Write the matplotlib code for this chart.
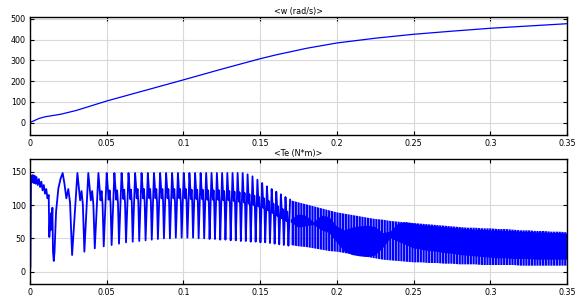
import matplotlib.pyplot as plt
import numpy as np

# rotor speed <w (rad/s)>
w_t = [0, 0.003, 0.006, 0.01, 0.015, 0.02, 0.03, 0.05, 0.075, 0.1, 0.125, 0.15,
       0.16, 0.17, 0.18, 0.2, 0.225, 0.25, 0.275, 0.3, 0.325, 0.35]
w_v = [0, 10, 20, 28, 34, 40, 58, 104, 155, 206, 258, 308,
       326, 342, 358, 384, 407, 426, 441, 455, 466, 477]

# torque <Te (N*m)> : start-up transient
te0_t = [0, 0.0003, 0.0007, 0.0012, 0.0018, 0.0024, 0.0030, 0.0036, 0.0042, 0.0050,
         0.0058, 0.0066, 0.0074, 0.0082, 0.0090, 0.0098, 0.0106, 0.0114, 0.0122, 0.0126,
         0.0130, 0.0134, 0.0138, 0.0142, 0.0146, 0.0150, 0.0155, 0.0160, 0.0170, 0.0185, 0.0200]
te0_v = [0, 8, 144, 134, 145, 133, 144, 132, 142, 130,
         139, 127, 135, 122, 130, 117, 124, 110, 115, 52,
         78, 62, 88, 70, 96, 30, 16, 30, 90, 125, 140]

# torque: one entry per oscillation cycle (peak time, peak, shoulder level, trough)
cyc_t = [0.0213, 0.0309, 0.0380, 0.0446, 0.0500, 0.0550, 0.0597, 0.0642, 0.0685, 0.0727,
         0.0768, 0.0808, 0.0848, 0.0887, 0.0926, 0.0964, 0.1002, 0.1039, 0.1076, 0.1112,
         0.1148, 0.1183, 0.1218, 0.1252, 0.1286, 0.1320, 0.1353, 0.1386, 0.1418, 0.1450,
         0.1482, 0.1513, 0.1544, 0.1575, 0.1605, 0.1635, 0.1665, 0.1695]
cyc_peak = [148, 148, 148, 148, 148, 148, 148, 148, 148, 148,
            148, 148, 148, 148, 148, 148, 148, 148, 148, 148,
            148, 148, 148, 148, 148, 148, 148, 148, 146, 143,
            138, 133, 128, 124, 120, 116, 112, 108]
cyc_mid = [118, 115, 115, 115, 116, 116, 117, 117, 118, 118,
           118, 118, 118, 118, 118, 118, 118, 117, 117, 117,
           116, 116, 116, 115, 115, 114, 113, 112, 110, 108,
           106, 104, 100, 96, 92, 88, 84, 80]
cyc_low = [25, 30, 35, 38, 40, 42, 44, 45, 46, 47,
           48, 49, 50, 50, 51, 51, 51, 51, 50, 50,
           49, 49, 48, 48, 47, 47, 46, 46, 45, 45,
           44, 44, 43, 42, 41, 40, 39, 38]

# torque: dense ripple band after 0.17 s (outer envelope and solid core)
band_t = [0.170, 0.175, 0.180, 0.185, 0.190, 0.195, 0.200, 0.205, 0.210, 0.215,
          0.220, 0.225, 0.230, 0.235, 0.240, 0.245, 0.250, 0.255, 0.260, 0.265,
          0.270, 0.275, 0.280, 0.285, 0.290, 0.295, 0.300, 0.305, 0.310, 0.315,
          0.320, 0.325, 0.330, 0.335, 0.340, 0.345, 0.350]
band_hi = [107, 104, 101, 98, 95, 92, 89, 87, 85, 83,
           81, 79, 78, 76, 75, 74, 73, 72, 71, 70,
           69, 68, 67, 66, 66, 65, 65, 64, 64, 63,
           62, 62, 61, 61, 60, 60, 59]
band_lo = [40, 38, 37, 35, 33, 31, 30, 28, 26, 24,
           22, 20, 18, 17, 16, 15, 14, 14, 13, 13,
           12, 12, 11, 11, 11, 10, 10, 10, 10, 10,
           9, 9, 9, 9, 9, 9, 9]
core_hi = [78, 86, 84, 74, 84, 82, 68, 62, 66, 68,
           69, 67, 58, 60, 72, 74, 72, 70, 69, 68,
           67, 66, 65, 64, 63, 63, 62, 62, 61, 61,
           60, 60, 59, 59, 58, 58, 57]
core_lo = [74, 66, 68, 70, 62, 58, 44, 30, 25, 23,
           22, 24, 35, 50, 45, 40, 35, 33, 31, 30,
           28, 27, 25, 24, 23, 22, 21, 20, 20, 19,
           19, 19, 18, 18, 18, 18, 18]

# build torque trace from the cycle table
te_t = list(te0_t)
te_v = list(te0_v)
for i in range(len(cyc_t) - 1):
    t0 = cyc_t[i]
    g = cyc_t[i + 1] - cyc_t[i]
    te_t += [t0, t0 + 0.12 * g, t0 + 0.25 * g, t0 + 0.38 * g, t0 + 0.5 * g, t0 + 0.64 * g]
    te_v += [cyc_peak[i], cyc_mid[i] + 14, cyc_mid[i] - 8, cyc_mid[i] + 6,
             cyc_mid[i] - 14, cyc_low[i]]
te_t.append(cyc_t[-1])
te_v.append(cyc_peak[-1])

plt.rcParams['hatch.color'] = 'blue'
plt.rcParams['hatch.linewidth'] = 1.6

fig = plt.figure(figsize=(5.8, 2.96), dpi=100)
ax1 = fig.add_axes([0.0517, 0.544, 0.926, 0.399])
ax2 = fig.add_axes([0.0517, 0.0405, 0.926, 0.4223])

ax1.plot(w_t, w_v, color='blue', linewidth=0.9)
ax2.plot(te_t, te_v, color='blue', linewidth=1.3)
ax2.fill_between(band_t, band_lo, band_hi, facecolor='none', edgecolor='blue',
                 hatch='||||||', linewidth=0)
ax2.fill_between(band_t, core_lo, core_hi, facecolor='blue', linewidth=0)

xticks = [0, 0.05, 0.1, 0.15, 0.2, 0.25, 0.3, 0.35]
xlabels = ['0', '0.05', '0.1', '0.15', '0.2', '0.25', '0.3', '0.35']

def style(ax, ylim, yticks, title):
    ax.set_xlim(0, 0.35)
    ax.set_ylim(*ylim)
    ax.set_xticks(xticks)
    ax.set_xticklabels(xlabels)
    ax.set_yticks(yticks)
    ax.grid(True, color='#d9d9d9', linewidth=0.8)
    ax.set_axisbelow(True)
    ax.tick_params(direction='in', length=3, width=0.8, labelsize=5.8,
                   top=True, right=True, pad=3)
    for s in ax.spines.values():
        s.set_linewidth(1.0)
    ax.set_title(title, fontsize=5.8, pad=2)

style(ax1, (-60, 510), [0, 100, 200, 300, 400, 500], '<w (rad/s)>')
style(ax2, (-18.5, 169), [0, 50, 100, 150], '<Te (N*m)>')

fig.savefig('out.png', dpi=100)
